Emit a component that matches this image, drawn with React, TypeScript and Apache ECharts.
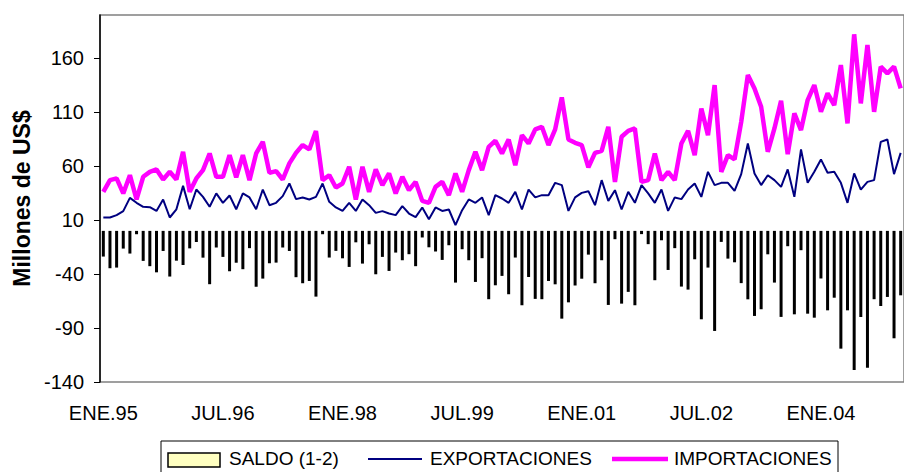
import React, { useEffect, useRef } from "react";
import * as echarts from "echarts";

const FONT = '"Liberation Sans", Arial, sans-serif';

const MONTHS = ["ENE", "FEB", "MAR", "ABR", "MAY", "JUN", "JUL", "AGO", "SEP", "OCT", "NOV", "DIC"];
const YEARS = ["95", "96", "97", "98", "99", "00", "01", "02", "03", "04", "05"];
const categories: string[] = [];
YEARS.forEach((y) => MONTHS.forEach((m) => categories.push(`${m}.${y}`)));

// Exportaciones (1), millones de US$, ENE.95 .. ENE.05
const exportaciones = [
  12.4, 12.4, 14.6, 18.3, 30.6, 26, 22.3, 22, 18.5, 29, 12.4, 20,
  41.7, 20, 38.3, 31.5, 22.3, 34.7, 26, 32.8, 20, 34.7, 31, 20,
  38.3, 23.8, 26, 32.2, 43.9, 29.4, 31, 29.1, 31.5, 43.9, 26.9, 21.7,
  18.5, 26, 18.5, 29.1, 23.8, 16.7, 18.3, 16.1, 14.6, 22.9, 16.1, 12.7,
  21.7, 10.8, 21.7, 18.5, 19.8, 5.3, 19.2, 29.1, 26, 31, 14.6, 33.1,
  30, 26, 36.2, 19.8, 38.3, 31, 33.1, 33.1, 44.5, 42.4, 18.5, 31,
  35.2, 36.8, 23.8, 47, 27.8, 37.7, 19.8, 36.2, 26, 42.4, 34.7, 26,
  38.3, 18.5, 31, 29.4, 38.3, 43.9, 31.5, 54.7, 42.4, 44.5, 44.5, 37.1,
  52.6, 81, 53.2, 42.4, 51.6, 47, 40.8, 56.9, 31.5, 75.5, 44.5, 54.7,
  66.2, 53.8, 54.7, 44.5, 26, 53.2, 38.3, 45.4, 47, 82.5, 84.7, 52.6,
  72.3,
];

// Importaciones (2), millones de US$
const importaciones = [
  36.2, 47, 48.6, 34.7, 51.6, 29.1, 50.1, 54.7, 56.9, 47.6, 54.7, 47.6,
  73.3, 36.2, 48.6, 56.3, 71.7, 50.1, 50.1, 70.2, 49.5, 70.2, 47, 71.7,
  82.5, 53.8, 55.4, 47.6, 62.5, 72.3, 79.5, 75.5, 92.4, 47, 51.6, 40.2,
  43.9, 59.4, 29.1, 59.4, 36.2, 56.9, 42.4, 53.2, 34.7, 50.1, 37.7, 45.4,
  27.8, 26, 40.8, 45.4, 33.1, 53.2, 36.2, 56.3, 73.3, 56.3, 77.9, 83.5,
  71.7, 84.7, 60.9, 88.7, 81, 94, 96.4, 79.5, 94, 123.7, 84.7, 81.6,
  79.5, 58.8, 72.3, 74.2, 96.4, 45.4, 87.2, 92.7, 94.9, 45.4, 47, 71.7,
  47, 54.7, 47, 81, 92.7, 70.2, 113.4, 88.7, 135.1, 54.7, 70.2, 66.2,
  101, 144.4, 132, 115, 73.3, 94.9, 120.5, 71.1, 108.8, 93.4, 121.2, 135.1,
  110.3, 127.4, 116.6, 153.6, 99.6, 182.1, 118.1, 172.2, 110.3, 152.1, 145.9, 152.1,
  132,
];

// Saldo (1-2)
const saldo = exportaciones.map((e, i) => Math.round((e - importaciones[i]) * 10) / 10);

const months = categories.slice(0, exportaciones.length);

const yTicks = [-140, -90, -40, 10, 60, 110, 160];

const SERIES_NAMES = ["SALDO (1-2)", "EXPORTACIONES", "IMPORTACIONES"];
const COLORS = { saldo: "#FFFFC0", exp: "#000080", imp: "#FF00FF" };

export default function App() {
  const ref = useRef<HTMLDivElement>(null);

  useEffect(() => {
    if (!ref.current) return;
    const chart = echarts.init(ref.current, undefined, { renderer: "svg" });
    const legendY = 459;
    const legendFont = { fontSize: 19, fontFamily: FONT, fill: "#000", verticalAlign: "middle" as const };
    chart.setOption({
      animation: false,
      textStyle: { fontFamily: FONT },
      grid: {
        left: 100,
        top: 15,
        right: -3,
        bottom: 90,
        show: true,
        borderColor: "#808080",
        borderWidth: 1.5,
        backgroundColor: "transparent",
      },
      xAxis: {
        type: "category",
        data: months,
        boundaryGap: true,
        axisLine: { show: false, onZero: false },
        axisTick: { show: false },
        axisLabel: { interval: 17, fontSize: 20, color: "#000", margin: 21 },
        splitLine: { show: false },
      },
      yAxis: {
        type: "value",
        min: -140,
        max: 200,
        interval: 50,
        axisLine: { show: true, lineStyle: { color: "#000", width: 1.5 } },
        axisTick: { show: true, length: 6, lineStyle: { color: "#000" }, customValues: yTicks },
        axisLabel: { fontSize: 20, color: "#000", margin: 16, customValues: yTicks },
        splitLine: { show: false },
        name: "Millones de US$",
        nameLocation: "middle",
        nameGap: 66,
        nameRotate: 90,
        nameTextStyle: { fontSize: 23, fontWeight: "bold", color: "#000" },
      },
      series: [
        {
          name: SERIES_NAMES[0],
          type: "bar",
          data: saldo,
          barWidth: 3,
          itemStyle: { color: COLORS.saldo, borderColor: "#000", borderWidth: 1.6 },
          z: 1,
        },
        {
          name: SERIES_NAMES[1],
          type: "line",
          data: exportaciones,
          symbol: "none",
          lineStyle: { color: COLORS.exp, width: 2 },
          itemStyle: { color: COLORS.exp },
          z: 3,
        },
        {
          name: SERIES_NAMES[2],
          type: "line",
          data: importaciones,
          symbol: "none",
          lineStyle: { color: COLORS.imp, width: 4.5 },
          itemStyle: { color: COLORS.imp },
          z: 4,
        },
      ],
      graphic: [
        {
          type: "rect",
          shape: { x: 161, y: 441, width: 677, height: 40 },
          style: { fill: "#fff", stroke: "#000", lineWidth: 1 },
          z: 10,
        },
        {
          type: "rect",
          shape: { x: 168, y: 453, width: 52, height: 14 },
          style: { fill: COLORS.saldo, stroke: "#000", lineWidth: 1.5 },
          z: 11,
        },
        { type: "text", x: 229, y: legendY - 1, style: { ...legendFont, text: SERIES_NAMES[0] }, z: 11 },
        {
          type: "line",
          shape: { x1: 368, y1: legendY, x2: 422, y2: legendY },
          style: { stroke: COLORS.exp, lineWidth: 2 },
          z: 11,
        },
        { type: "text", x: 430, y: legendY - 1, style: { ...legendFont, text: SERIES_NAMES[1] }, z: 11 },
        {
          type: "line",
          shape: { x1: 612, y1: legendY, x2: 668, y2: legendY },
          style: { stroke: COLORS.imp, lineWidth: 4.5 },
          z: 11,
        },
        { type: "text", x: 674, y: legendY - 1, style: { ...legendFont, text: SERIES_NAMES[2] }, z: 11 },
      ],
    });
    return () => chart.dispose();
  }, []);

  return (
    <div
      ref={ref}
      style={{ position: "fixed", left: 0, top: 0, width: 904, height: 472, background: "#fff" }}
    />
  );
}
